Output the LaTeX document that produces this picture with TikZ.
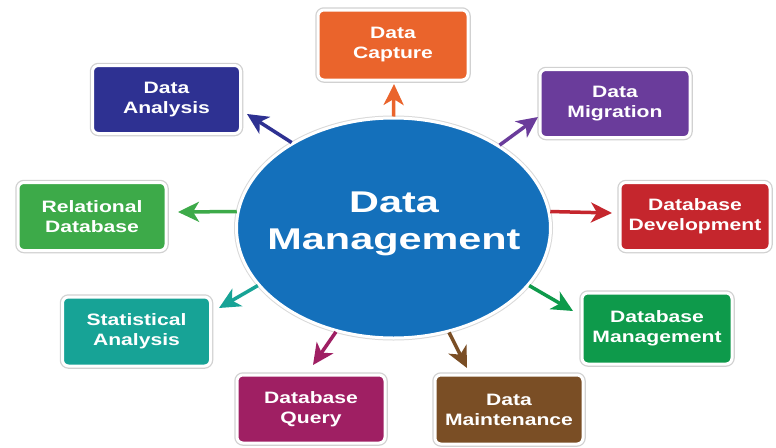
\documentclass[tikz,border=0pt]{standalone}
\usepackage{fontspec}
\usetikzlibrary{arrows.meta,shapes.geometric}
\newfontfamily\boxfont[FakeStretch=1.28]{Liberation Sans}
\newfontfamily\hubfont[FakeStretch=1.38]{Liberation Sans}

\definecolor{cOrange}{HTML}{EA642C}
\definecolor{cNavy}{HTML}{2E3192}
\definecolor{cPurple}{HTML}{6A3C9B}
\definecolor{cGreenA}{HTML}{3DAA49}
\definecolor{cRed}{HTML}{C5262D}
\definecolor{cTeal}{HTML}{17A396}
\definecolor{cGreenB}{HTML}{0E9A4B}
\definecolor{cMagenta}{HTML}{9F1F63}
\definecolor{cBrown}{HTML}{7A4E25}
\definecolor{cBlue}{HTML}{1470BB}

\tikzset{
  topic/.style={rectangle, rounded corners=6pt, fill=#1, draw=white,
    line width=3pt, preaction={draw=black!18, line width=5.5pt},
    minimum width=148pt, minimum height=68pt, inner sep=0pt,
    align=center, text=white,
    font=\boxfont\bfseries\fontsize{16.5}{20}\selectfont},
  hub/.style={ellipse, fill=cBlue, draw=white, line width=3pt,
    preaction={draw=black!15, line width=5pt},
    minimum width=314pt, minimum height=220pt, inner sep=0pt},
  link/.style={draw=#1, line width=3.5pt,
    -{Stealth[length=21pt,width=20pt,inset=6pt]}}
}

\begin{document}
\begin{tikzpicture}[x=1pt,y=-1pt]
  \useasboundingbox[fill=white] (0,0) rectangle (776,447);

  % central hub
  \node[hub] (dm) at (393.5,228) {};
  \node[align=center, text=white,
        font=\hubfont\bfseries\fontsize{30}{37}\selectfont]
        (dmtext) at (394,224) {Data\\Management};

  % surrounding topics
  \node[topic=cOrange,  minimum width=150pt, minimum height=70pt] (cap) at (393,45)    {Data\\Capture};
  \node[topic=cNavy]    (ana) at (166.5,99.5) {Data\\Analysis};
  \node[topic=cPurple,  minimum width=150pt] (mig) at (615,103.5) {Data\\Migration};
  \node[topic=cGreenA]  (rel) at (92,216.5)   {Relational\\Database};
  \node[topic=cRed,     minimum width=150pt] (dev) at (695,216.5) {Database\\Development};
  \node[topic=cTeal,    minimum height=69pt] (sta) at (136.5,331.5) {Statistical\\Analysis};
  \node[topic=cGreenB,  minimum width=150pt, minimum height=71pt] (mgt) at (657,328.5) {Database\\Management};
  \node[topic=cMagenta] (qry) at (311,409)    {Database\\Query};
  \node[topic=cBrown,   minimum height=69pt] (mnt) at (509,409.5) {Data\\Maintenance};

  % arrow tips just short of each topic box
  \coordinate (tcap) at (394,84);
  \coordinate (tana) at (247,114);
  \coordinate (tmig) at (538,117);
  \coordinate (trel) at (178,212);
  \coordinate (tdev) at (612,213);
  \coordinate (tsta) at (219,308);
  \coordinate (tmgt) at (573,311);
  \coordinate (tqry) at (313,365);
  \coordinate (tmnt) at (467,368);

  % connectors from the hub outwards
  \draw[link=cOrange]  (dm.90)    -- (tcap);
  \draw[link=cNavy]    (dm.140.6) -- (tana);
  \draw[link=cPurple]  (dm.38.7)  -- (tmig);
  \draw[link=cGreenA]  (dm.174)   -- (trel);
  \draw[link=cRed]     (dm.6)     -- (tdev);
  \draw[link=cTeal]    (dm.-157)  -- (tsta);
  \draw[link=cGreenB]  (dm.-23)   -- (tmgt);
  \draw[link=cMagenta] (dm.-119.5)-- (tqry);
  \draw[link=cBrown]   (dm.-62)   -- (tmnt);
\end{tikzpicture}
\end{document}
